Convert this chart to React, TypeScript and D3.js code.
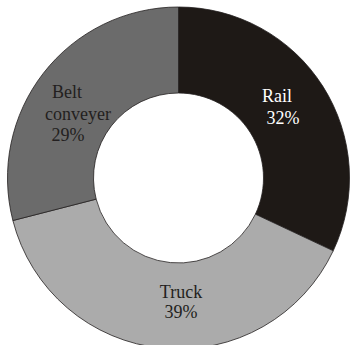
import React from "react";
import * as d3 from "d3";

const categories = ["Rail", "Truck", "Belt conveyer"];
const values = [32, 39, 29];
const colors = ["#1e1916", "#ababab", "#6b6b6b"];
const textColors = ["#ffffff", "#231f20", "#231f20"];
const labelLines = [["Rail", "32%"], ["Truck", "39%"], ["Belt", "conveyer", "29%"]];
const labelPos = [[277, 102, 6], [181, 298, 0], [70, 98, 0]];

export default function App() {
  const W = 351, H = 345;
  const cx = 178.5, cy = 178;
  const pie = d3.pie<number>().sort(null).value((d) => d);
  const arcs = pie(values);
  const arc = d3.arc<d3.PieArcDatum<number>>().innerRadius(85).outerRadius(171);
  return (
    <svg width={W} height={H} style={{ position: "absolute", left: 0, top: 0, background: "#fff" }}>
      <g transform={`translate(${cx},${cy})`}>
        {arcs.map((a, i) => (
          <path key={categories[i]} d={arc(a) || ""} fill={colors[i]} stroke="#231f20" strokeWidth={0.8} />
        ))}
      </g>
      {labelLines.map((lines, i) => (
        <text key={categories[i]} fontFamily="'Liberation Serif', serif" fontSize={18} fill={textColors[i]} textAnchor="middle">
          {lines.map((l, j) => {
            let x = labelPos[i][0];
            if (i === 0 && j === 1) x += labelPos[i][2];
            if (i === 2 && j === 1) x += 8;
            if (i === 2 && j === 0) x -= 3;
            if (i === 2 && j === 2) x -= 2;
            return (
              <tspan key={j} x={x} y={labelPos[i][1] + j * (i === 2 ? 21.5 : i === 0 ? 22 : 20)}>{l}</tspan>
            );
          })}
        </text>
      ))}
    </svg>
  );
}
